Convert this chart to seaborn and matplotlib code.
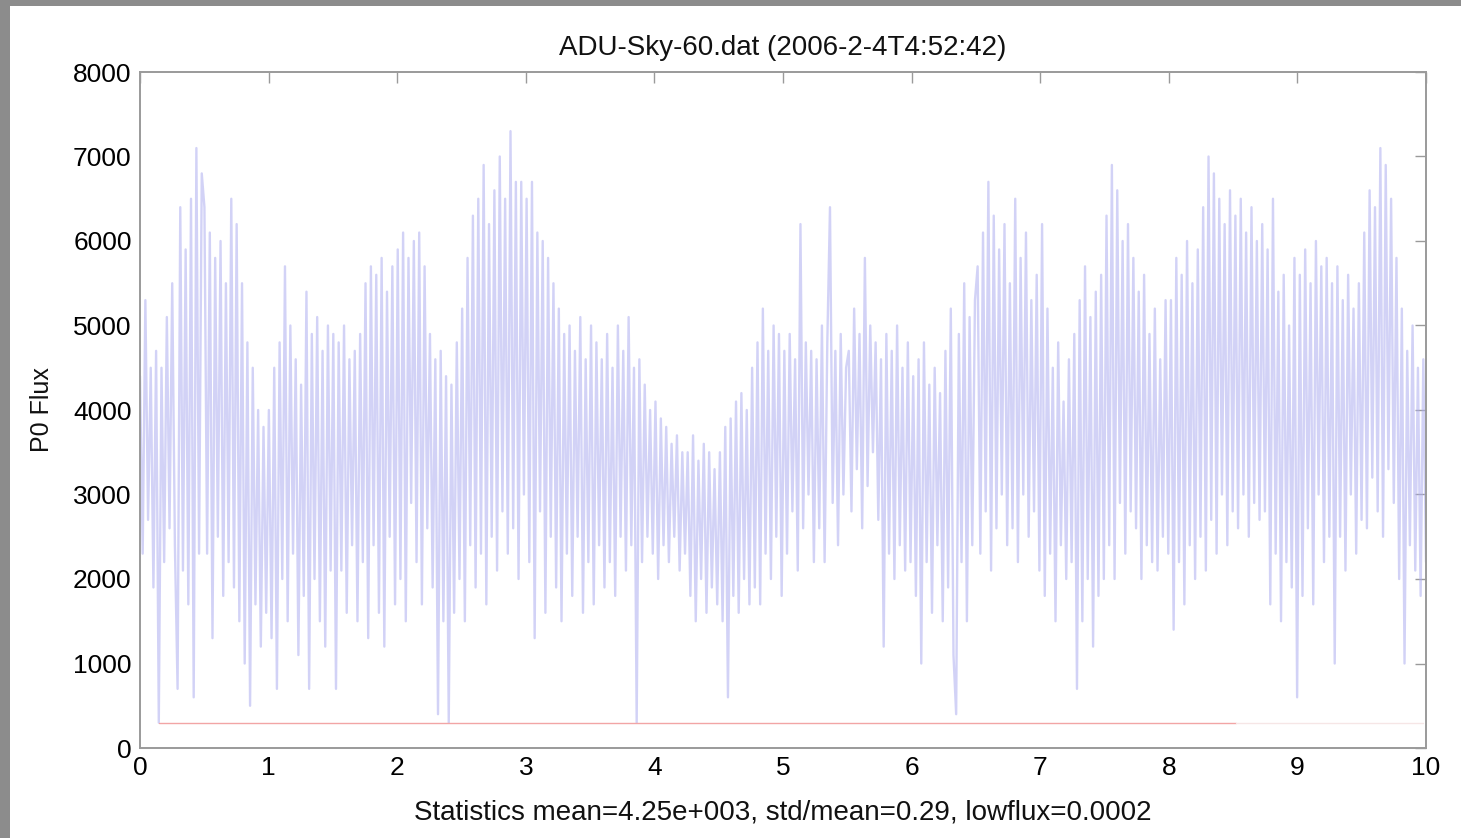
import numpy as np
import pandas as pd
import matplotlib
matplotlib.use("Agg")
import matplotlib.pyplot as plt
from matplotlib.patches import Rectangle
import seaborn as sns

# P0 flux samples, ten runs of 48 samples each (one run per unit of x)
flux = [
    # 0 - 1
    4400, 2300, 5300, 2700, 4500, 1900, 4700, 300, 4500, 2200, 5100, 2600,
    5500, 2400, 700, 6400, 2100, 5900, 1700, 6500, 600, 7100, 2300, 6800,
    6400, 2300, 6100, 1300, 5800, 2500, 6000, 1800, 5500, 2200, 6500, 1900,
    6200, 1500, 5500, 1000, 4800, 500, 4500, 1700, 4000, 1200, 3800, 1600,
    # 1 - 2
    4000, 1300, 4500, 700, 4800, 2000, 5700, 1500, 5000, 2300, 4600, 1100,
    4300, 1800, 5400, 700, 4900, 2000, 5100, 1500, 4700, 1200, 5000, 2100,
    4900, 700, 4800, 2100, 5000, 1600, 4600, 2400, 4700, 1500, 4900, 2200,
    5500, 1300, 5700, 2400, 5600, 1600, 5800, 1200, 5400, 2500, 5700, 1700,
    # 2 - 3
    5900, 2000, 6100, 1500, 5800, 2900, 6000, 2200, 6100, 1700, 5700, 2600,
    4900, 1900, 4600, 400, 4700, 1500, 4400, 300, 4300, 1600, 4800, 2000,
    5200, 1500, 5800, 2400, 6300, 1900, 6500, 2300, 6900, 1700, 6200, 2500,
    6600, 2100, 7000, 2800, 6500, 2300, 7300, 2600, 6700, 2000, 6700, 3000,
    # 3 - 4
    6500, 2200, 6700, 1300, 6100, 2800, 6000, 1600, 5800, 2500, 5500, 1900,
    5200, 1500, 4900, 2300, 5000, 1800, 4700, 2500, 5100, 1600, 4600, 2200,
    5000, 1700, 4800, 2400, 4600, 1900, 4900, 2200, 4500, 1800, 5000, 2500,
    4700, 2100, 5100, 2400, 4500, 300, 4600, 2200, 4300, 2500, 4000, 2300,
    # 4 - 5
    4100, 2000, 3900, 2400, 3800, 2200, 3600, 2500, 3700, 2100, 3500, 2300,
    3500, 1800, 3700, 1500, 3400, 2000, 3600, 1600, 3500, 1900, 3300, 1700,
    3500, 1500, 3800, 600, 3900, 1800, 4100, 1600, 4200, 2000, 4000, 1700,
    4500, 1900, 4800, 1700, 5200, 2300, 4700, 2000, 5000, 2500, 4900, 1800,
    # 5 - 6
    4700, 2300, 4900, 2800, 4600, 2100, 6200, 2600, 4800, 3000, 4700, 2200,
    4600, 2600, 5000, 2200, 4800, 6400, 2900, 4700, 2400, 4900, 3000, 4500,
    4700, 2800, 5200, 3300, 4900, 2600, 5800, 3100, 5000, 3500, 4800, 2700,
    4600, 1200, 4900, 2300, 4700, 2000, 5000, 2400, 4500, 2100, 4800, 2200,
    # 6 - 7
    4400, 1800, 4600, 1000, 4800, 2200, 4300, 1600, 4500, 2400, 4200, 1500,
    4700, 1900, 5200, 1100, 400, 4900, 2200, 5500, 1500, 5100, 2400, 5300,
    5700, 2300, 6100, 2800, 6700, 2100, 6300, 2600, 5900, 3000, 6200, 2400,
    5500, 2600, 6500, 2200, 5800, 3000, 6100, 2500, 5300, 2800, 5600, 2100,
    # 7 - 8
    6200, 1800, 5200, 2300, 4500, 1500, 4800, 2400, 4100, 2000, 4600, 2200,
    4900, 700, 5300, 1500, 5700, 2000, 5100, 1200, 5400, 1800, 5600, 2000,
    6300, 2400, 6900, 2000, 6600, 2900, 6000, 2300, 6200, 2800, 5800, 2600,
    5400, 2000, 5600, 2400, 4900, 2200, 5200, 2100, 4600, 2500, 5300, 2300,
    # 8 - 9
    5300, 1400, 5800, 2200, 5600, 1700, 6000, 2400, 5500, 2000, 5900, 2500,
    6400, 2100, 7000, 2700, 6800, 2300, 6500, 3000, 6200, 2400, 6600, 2800,
    6300, 2600, 6500, 3000, 6100, 2500, 6400, 2900, 6000, 2700, 6200, 2800,
    5900, 1700, 6500, 2300, 5400, 1500, 5600, 2200, 5000, 1900, 5800, 600,
    # 9 - 10
    5600, 1800, 5900, 2600, 5500, 1700, 6000, 3000, 5700, 2200, 5800, 2500,
    5500, 1000, 5700, 2500, 5300, 2100, 5600, 3000, 5200, 2300, 5500, 2700,
    6100, 2600, 6600, 3200, 6400, 2800, 7100, 2500, 6900, 3300, 6500, 2900,
    5800, 2000, 5200, 1000, 4700, 2400, 5000, 2100, 4500, 1800, 4600, 2200,
]
t_start, t_end = 0.0, 10.0

# low-flux threshold line
lowflux_x = [0.15, 8.52]
lowflux_x_tail = [8.52, 9.98]
lowflux_y = [300, 300]

x_ticks = [0, 1, 2, 3, 4, 5, 6, 7, 8, 9, 10]
y_ticks = [0, 1000, 2000, 3000, 4000, 5000, 6000, 7000, 8000]

title = "ADU-Sky-60.dat (2006-2-4T4:52:42)"
xlabel = "Statistics mean=4.25e+003, std/mean=0.29, lowflux=0.0002"
ylabel = "P0 Flux"

sns.set_theme(style="white")
plt.rcParams["font.family"] = ["Liberation Sans", "DejaVu Sans"]

fig = plt.figure(figsize=(14.61, 8.38), dpi=100, facecolor="#8c8c8c")
# white slide panel behind the axes
panel = Rectangle((10 / 1461, 0), 1 - 10 / 1461, 1 - 6 / 838,
                  transform=fig.transFigure, facecolor="white",
                  edgecolor="none", zorder=-10)
fig.add_artist(panel)

ax = fig.add_axes([140 / 1461, 90 / 838, 1286 / 1461, 676 / 838])
ax.set_zorder(1)
ax.set_facecolor("white")

df = pd.DataFrame({"t": np.linspace(t_start, t_end, len(flux)), "flux": flux})
sns.lineplot(data=df, x="t", y="flux", ax=ax, estimator=None, sort=False,
             color="#aeaef0", linewidth=1.7, alpha=0.55)

ax.plot(lowflux_x, lowflux_y, color="#f2a5a5", linewidth=1.0)
ax.plot(lowflux_x_tail, lowflux_y, color="#f6e6e6", linewidth=1.0)

ax.set_xlim(0, 10)
ax.set_ylim(0, 8000)
ax.set_xticks(x_ticks)
ax.set_yticks(y_ticks)
ax.set_xticklabels([str(v) for v in x_ticks])
ax.set_yticklabels([str(v) for v in y_ticks])
ax.tick_params(direction="in", length=8, width=1, color="#9a9a9a",
               top=True, right=True, labelsize=19, pad=6, labelcolor="black")
for s in ax.spines.values():
    s.set_visible(True)
    s.set_color("#9a9a9a")
    s.set_linewidth(1.4)

ax.set_title(title, fontsize=20, pad=12, color="#111111")
ax.set_xlabel(xlabel, fontsize=20, labelpad=14, color="#111111")
ax.set_ylabel(ylabel, fontsize=18, labelpad=14, color="#111111")

fig.savefig("out.png", dpi=100, facecolor=fig.get_facecolor())
